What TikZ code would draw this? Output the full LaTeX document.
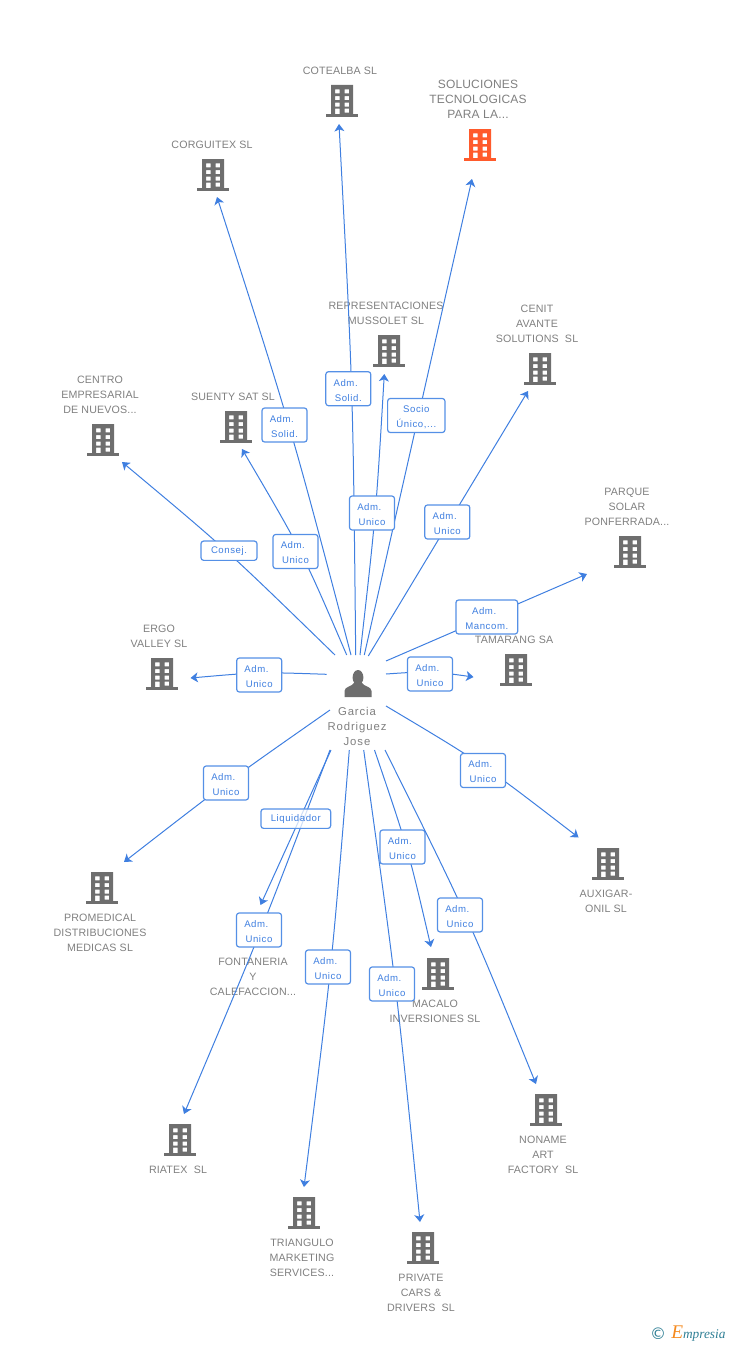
\documentclass[tikz,border=0pt]{standalone}
\usepackage{fontspec}
\setmainfont{Liberation Sans}
\newfontfamily\logofont{Liberation Serif}
\newfontfamily\logosym{DejaVu Sans}
\usetikzlibrary{arrows.meta,positioning}
\definecolor{linkblue}{HTML}{3F7FE0}
\definecolor{roleBlue}{HTML}{5590E6}
\definecolor{iconGray}{HTML}{6E6E6E}
\definecolor{textGray}{HTML}{7F7F7F}
\definecolor{hotOrange}{HTML}{FF5A2B}
\definecolor{logoTeal}{HTML}{2F7F95}
\definecolor{logoOrange}{HTML}{F58A1F}
\newcommand{\rolestrut}{\rule{0pt}{7.5pt}}
\newcommand{\admlbl}{\rolestrut Adm.\kern4pt}

\begin{document}
\begin{tikzpicture}[
    x=0.75pt, y=-0.75pt,
    coname/.style={font=\fontsize{8}{11.25}\selectfont\addfontfeature{LetterSpace=1.5}, text=textGray, align=center, inner sep=0pt, yshift=-0.75pt},
    hotname/.style={coname, font=\fontsize{9}{11.25}\selectfont\addfontfeature{LetterSpace=1.5}},
    hubname/.style={coname, font=\fontsize{8.5}{11.25}\selectfont\addfontfeature{LetterSpace=8}},
    role/.style={rectangle, draw=roleBlue, fill=white, rounded corners=2pt, line width=0.9pt, minimum width=33.75pt, minimum height=25.5pt, inner sep=0pt, align=center, text=linkblue, font=\fontsize{7.2}{11.25}\selectfont\addfontfeature{LetterSpace=6}},
    flat/.style={role, minimum height=14.5pt},
    link/.style={draw=linkblue, line width=0.75pt, -{Stealth[length=5.5pt, width=7.5pt, inset=1.5pt]}},
    bldg/.pic={
        \fill[pic actions, even odd rule] (-11,-16) rectangle (11,14)
            (-7,-11.7) rectangle (-2.5,-7.7) (2.5,-11.7) rectangle (7,-7.7)
            (-7,-5) rectangle (-2.5,-1) (2.5,-5) rectangle (7,-1)
            (-7,1.7) rectangle (-2.5,5.7) (2.5,1.7) rectangle (7,5.7)
            (-7,7.7) rectangle (-2.5,14) (2.5,7.7) rectangle (7,11.7);
        \fill[pic actions] (-16,13.3) rectangle (16,16);
    },
    person/.pic={
        \fill[pic actions] (0,-5.5) ellipse (5.4 and 7.5);
        \fill[pic actions] (-13.5,14) -- (-13.5,8) .. controls (-13.5,3.5) and (-6,3.5) .. (-4,0) -- (4,0) .. controls (6,3.5) and (13.5,3.5) .. (13.5,8) -- (13.5,14) -- cycle;
    }
]
\useasboundingbox (0,0) rectangle (728,1345);

% Companies
\pic[fill=iconGray] at (342,101) {bldg};
\node[coname] (nCotealba) at (340,70) {COTEALBA SL};
\pic[fill=hotOrange] at (480,145) {bldg};
\node[hotname] (nSoluciones) at (478,98) {SOLUCIONES\\TECNOLOGICAS\\PARA LA...};
\pic[fill=iconGray] at (213,175) {bldg};
\node[coname] (nCorguitex) at (212,144) {CORGUITEX SL};
\pic[fill=iconGray] at (389,351) {bldg};
\node[coname] (nMussolet) at (386,312.5) {REPRESENTACIONES\\MUSSOLET SL};
\pic[fill=iconGray] at (540,369) {bldg};
\node[coname] (nCenit) at (537,323) {CENIT\\AVANTE\\SOLUTIONS~~SL};
\pic[fill=iconGray] at (630,552) {bldg};
\node[coname] (nParque) at (627,506) {PARQUE\\SOLAR\\PONFERRADA...};
\pic[fill=iconGray] at (516,670) {bldg};
\node[coname] (nTamarang) at (514,639) {TAMARANG SA};
\pic[fill=iconGray] at (103,440) {bldg};
\node[coname] (nCentro) at (100,394) {CENTRO\\EMPRESARIAL\\DE NUEVOS...};
\pic[fill=iconGray] at (236,427) {bldg};
\node[coname] (nSuenty) at (233,396) {SUENTY SAT SL};
\pic[fill=iconGray] at (162,674) {bldg};
\node[coname] (nErgo) at (159,635.5) {ERGO\\VALLEY SL};
\pic[fill=iconGray] at (102,888) {bldg};
\node[coname] (nPromedical) at (100,932) {PROMEDICAL\\DISTRIBUCIONES\\MEDICAS SL};
\pic[fill=iconGray] at (256,930) {bldg};
\node[coname] (nFontaneria) at (253,976) {FONTANERIA\\Y\\CALEFACCION...};
\pic[fill=iconGray] at (180,1140) {bldg};
\node[coname] (nRiatex) at (178,1169) {RIATEX~~SL};
\pic[fill=iconGray] at (304,1213) {bldg};
\node[coname] (nTriangulo) at (302,1257) {TRIANGULO\\MARKETING\\SERVICES...};
\pic[fill=iconGray] at (423,1248) {bldg};
\node[coname] (nPrivate) at (421,1292) {PRIVATE\\CARS \&\\DRIVERS~~SL};
\pic[fill=iconGray] at (438,974) {bldg};
\node[coname] (nMacalo) at (435,1010.5) {MACALO\\INVERSIONES SL};
\pic[fill=iconGray] at (546,1110) {bldg};
\node[coname] (nNoname) at (543,1154) {NONAME\\ART\\FACTORY~~SL};
\pic[fill=iconGray] at (608,864) {bldg};
\node[coname] (nAuxigar) at (606,900.5) {AUXIGAR-\\ONIL SL};

% Person in the middle
\pic[fill=iconGray] at (358,683) {person};
\node[hubname] (nGarcia) at (357,725) {Garcia\\Rodriguez\\Jose};

% Upper connectors
\coordinate (s1) at (355.7,655); \coordinate (e1) at (339,124);
\draw[link] (s1) .. controls (353,389.5) .. (e1);
\node[role] (r1) at (348.3,388.7) {\admlbl\\Solid.};
\coordinate (s2) at (364.3,655); \coordinate (e2) at (472,179);
\draw[link] (s2) -- (e2);
\node[role, minimum width=43pt] (r2) at (416.3,415.5) {\rolestrut Socio\\Único,...};
\coordinate (s3) at (351,655); \coordinate (e3) at (217,197);
\draw[link] (s3) .. controls (290.7,426) .. (e3);
\node[role] (r3) at (284.5,425) {\admlbl\\Solid.};
\coordinate (s4) at (360,655); \coordinate (e4) at (384.3,374);
\draw[link] (s4) .. controls (376,514) .. (e4);
\node[role] (r4) at (372,513) {\admlbl\\Unico};
\coordinate (s5) at (368.3,656); \coordinate (e5) at (528,391);
\draw[link] (s5) -- (e5);
\node[role] (r5) at (447.3,522) {\admlbl\\Unico};
\coordinate (s6) at (386,661); \coordinate (e6) at (587,574);
\draw[link] (s6) -- (e6);
\node[role, minimum width=46.3pt] (r6) at (486.8,617) {\admlbl\\Mancom.};
\coordinate (s7) at (386,674); \coordinate (e7) at (473.5,677);
\draw[link] (s7) .. controls (430,671) .. (e7);
\node[role] (r7) at (430,674) {\admlbl\\Unico};
\coordinate (s8) at (335,655); \coordinate (e8) at (122,462);
\draw[link] (s8) .. controls (226,549) .. (e8);
\node[flat, minimum width=42pt] (r8) at (229,550.7) {Consej.};
\coordinate (s9) at (346.7,655); \coordinate (e9) at (242,449);
\draw[link] (s9) .. controls (302.5,552) .. (e9);
\node[role] (r9) at (295.5,551.5) {\admlbl\\Unico};
\coordinate (s10) at (326.7,674.3); \coordinate (e10) at (190.5,678);
\draw[link] (s10) .. controls (259,672) .. (e10);
\node[role] (r10) at (259.2,675) {\admlbl\\Unico};

% Lower connectors
\coordinate (s11) at (330,710); \coordinate (e11) at (124,862);
\draw[link] (s11) .. controls (227,782) .. (e11);
\node[role] (r11) at (226,783) {\admlbl\\Unico};
\coordinate (s13) at (330,750); \coordinate (e13) at (184,1114);
\draw[link] (s13) .. controls (261,932) .. (e13);
\node[role] (r13) at (259,930) {\admlbl\\Unico};
\coordinate (s12) at (331,750); \coordinate (e12) at (260.5,905);
\draw[link] (s12) -- (e12);
\node[flat, minimum width=52.3pt, fill opacity=0.75, text opacity=1] (r12) at (295.8,818.7) {Liquidador};
\coordinate (s14) at (349.3,750); \coordinate (e14) at (304,1187);
\draw[link] (s14) .. controls (331.6,968.5) .. (e14);
\node[role] (r14) at (328,967) {\admlbl\\Unico};
\coordinate (s15) at (363.7,750); \coordinate (e15) at (420,1222);
\draw[link] (s15) .. controls (396.5,986) .. (e15);
\node[role] (r15) at (392,984) {\admlbl\\Unico};
\coordinate (s16) at (374.5,750); \coordinate (e16) at (431,947);
\draw[link] (s16) .. controls (408,848.5) .. (e16);
\node[role] (r16) at (402.5,847) {\admlbl\\Unico};
\coordinate (s17) at (385,750); \coordinate (e17) at (536,1084);
\draw[link] (s17) .. controls (468,917) .. (e17);
\node[role] (r17) at (460,915) {\admlbl\\Unico};
\coordinate (s18) at (386,706); \coordinate (e18) at (578.5,837.5);
\draw[link] (s18) .. controls (482.5,763.5) .. (e18);
\node[role] (r18) at (483,770.5) {\admlbl\\Unico};

% Logo
\node[inner sep=0pt, text=logoTeal, font=\logosym\fontsize{12}{12}\selectfont] (logoC) at (658,1334) {©};
\node[inner sep=0pt, anchor=west, text=logoTeal, font=\logofont\itshape\fontsize{10}{10}\selectfont] (logoT) at (671,1333.5) {{\color{logoOrange}\fontsize{14.5}{10}\selectfont E}mpresia};
\end{tikzpicture}
\end{document}
